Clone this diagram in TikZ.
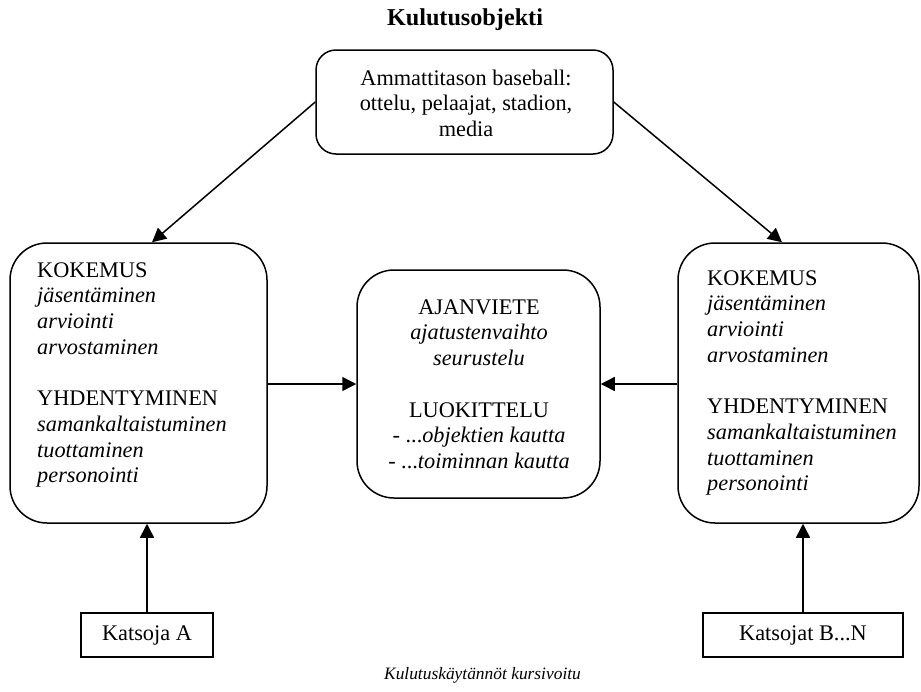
\documentclass[tikz,border=0pt]{standalone}
\usepackage{fontspec}
\setmainfont{Liberation Serif}
\usetikzlibrary{arrows.meta,calc}
\begin{document}
\begin{tikzpicture}[x=1pt,y=-1pt,
  txt/.style={font=\fontsize{22.3}{25.7}\selectfont, inner sep=0pt},
  rbox/.style={draw, line width=1.5pt, rounded corners=37pt, inner sep=0pt},
  sbox/.style={draw, line width=1.2pt, inner sep=0pt, font=\fontsize{22.3}{25.7}\selectfont},
  arr/.style={line width=1.5pt, -{Triangle[length=14pt,width=14pt]}}]
\useasboundingbox (0,0) rectangle (921,691);

% boxes
\node[rbox, rounded corners=20pt, minimum width=297pt, minimum height=104pt] (top) at (464.5,102) {};
\node[rbox, minimum width=257pt, minimum height=280pt] (L) at (138.5,383) {};
\node[rbox, minimum width=243pt, minimum height=228pt] (M) at (478.5,384) {};
\node[rbox, minimum width=241pt, minimum height=280pt] (R) at (798.5,383) {};
\node[sbox, minimum width=132pt, minimum height=44pt] (KA) at (147,635) {Katsoja A};
\node[sbox, minimum width=200pt, minimum height=44pt] (KB) at (803,635) {Katsojat B...N};

% texts
\node[font=\fontsize{24.2}{28}\selectfont\bfseries, anchor=base, inner sep=0pt] (title) at (465,25) {Kulutusobjekti};
\node[txt, align=center, anchor=north] (topt) at (466,65) {\rule{0pt}{20pt}Ammattitason baseball:\\ottelu, pelaajat, stadion,\\media};
\node[txt, align=left, anchor=north west] (Lt) at (37,257) {\rule{0pt}{20pt}KOKEMUS\\\textit{jäsentäminen}\\\textit{arviointi}\\\textit{arvostaminen}\\[25.7pt]YHDENTYMINEN\\\textit{samankaltaistuminen}\\\textit{tuottaminen}\\\textit{personointi}};
\node[txt, align=center, anchor=north] (Mt) at (479,294) {\rule{0pt}{20pt}AJANVIETE\\\textit{ajatustenvaihto}\\\textit{seurustelu}\\[25.7pt]LUOKITTELU\\- ...\textit{objektien kautta}\\- ...\textit{toiminnan kautta}};
\node[txt, align=left, anchor=north west] (Rt) at (707,265) {\rule{0pt}{20pt}KOKEMUS\\\textit{jäsentäminen}\\\textit{arviointi}\\\textit{arvostaminen}\\[25.7pt]YHDENTYMINEN\\\textit{samankaltaistuminen}\\\textit{tuottaminen}\\\textit{personointi}};
\node[inner sep=0pt, anchor=base, font=\fontsize{17.4}{20}\selectfont\itshape] (cap) at (482.5,679) {Kulutuskäytännöt kursivoitu};

% connectors
\draw[arr] (top.west) -- ($(L.north)+(13.5,0)$);
\draw[arr] (top.east) -- ($(R.north)+(-16.5,0)$);
\draw[arr] (M.west -| L.east) -- (M.west);
\draw[arr] (M.east -| R.west) -- (M.east);
\draw[arr] (KA.north) -- (KA.north |- L.south);
\draw[arr] (KB.north) -- (KB.north |- R.south);
\end{tikzpicture}
\end{document}
